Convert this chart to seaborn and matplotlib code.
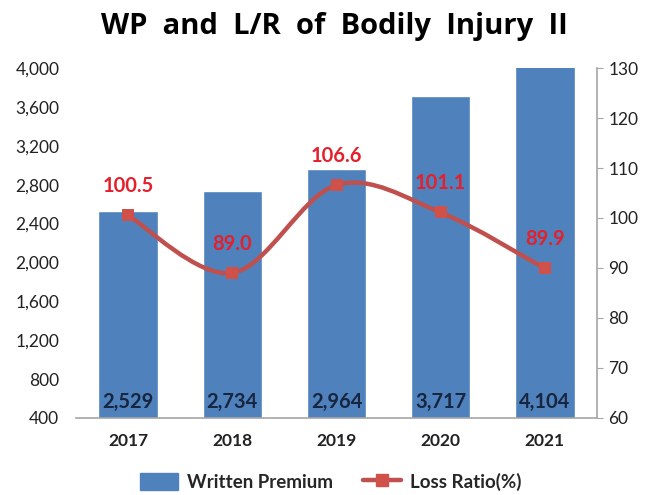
import numpy as np
import pandas as pd
import matplotlib
matplotlib.use('Agg')
import matplotlib.pyplot as plt
from matplotlib.path import Path
from matplotlib.patches import PathPatch, Patch
from matplotlib.lines import Line2D
import seaborn as sns

# data
years = ['2017', '2018', '2019', '2020', '2021']
written_premium = [2529, 2734, 2964, 3717, 4104]
loss_ratio = [100.5, 89.0, 106.6, 101.1, 89.9]
left_ticks = [400, 800, 1200, 1600, 2000, 2400, 2800, 3200, 3600, 4000]
right_ticks = [60, 70, 80, 90, 100, 110, 120, 130]

df = pd.DataFrame({'year': years, 'wp': written_premium, 'lr': loss_ratio})

sns.set_style('white')
plt.rcParams['font.family'] = ['Lato', 'DejaVu Sans']

BAR = '#4F81BD'
LINE = '#C0504D'
MARK = '#D0504A'
LABEL_RED = '#E3202B'
GRAY = '#A6A6A6'

fig = plt.figure(figsize=(6.55, 4.95), dpi=100)
ax = fig.add_axes([0.116, 0.1556, 0.7955, 0.707])

sns.barplot(data=df, x='year', y='wp', color=BAR, saturation=1, width=0.57, ax=ax)
ax.set_ylim(400, 4000)
ax.set_xlim(-0.5, 4.5)
ax.set_yticks(left_ticks)
ax.set_yticklabels([f'{t:,}' for t in left_ticks], fontsize=12.5, color='#222222')
ax.set_xticklabels(years, fontsize=12.5, fontweight='bold', color='#222222')
ax.set_xlabel('')
ax.set_ylabel('')
ax.tick_params(axis='y', length=0, pad=12)
ax.tick_params(axis='x', length=0, pad=11)
for s in ['left', 'top', 'right']:
    ax.spines[s].set_visible(False)
ax.spines['bottom'].set_color(GRAY)
ax.spines['bottom'].set_linewidth(1.2)

for i, v in enumerate(written_premium):
    ax.text(i, 560, f'{v:,}', ha='center', va='center', fontsize=14.5,
            fontweight='bold', color='#17253F')

ax2 = ax.twinx()
ax2.set_ylim(60, 130)
ax2.set_yticks(right_ticks)
ax2.set_yticklabels([str(t) for t in right_ticks], fontsize=12.5, color='#222222')
ax2.tick_params(axis='y', length=4, color=GRAY, pad=4)
for s in ['left', 'top', 'bottom']:
    ax2.spines[s].set_visible(False)
ax2.spines['right'].set_color(GRAY)
ax2.spines['right'].set_linewidth(1.2)

# smooth line (Catmull-Rom as cubic Bezier) through the loss ratio points
xs = np.arange(len(loss_ratio), dtype=float)
ys = np.array(loss_ratio, dtype=float)
pts = np.column_stack([xs, ys])
verts = [pts[0]]
codes = [Path.MOVETO]
for i in range(len(pts) - 1):
    p0 = pts[i - 1] if i > 0 else pts[i]
    p1, p2 = pts[i], pts[i + 1]
    p3 = pts[i + 2] if i + 2 < len(pts) else pts[i + 1]
    c1 = p1 + (p2 - p0) / 6
    c2 = p2 - (p3 - p1) / 6
    verts += [c1, c2, p2]
    codes += [Path.CURVE4] * 3
ax2.add_patch(PathPatch(Path(verts, codes), facecolor='none', edgecolor=LINE,
                        linewidth=3.2, zorder=3))

sns.scatterplot(x=xs, y=ys, marker='s', s=70, color=MARK, edgecolor=MARK,
                linewidth=0, zorder=4, ax=ax2, legend=False)

for x, v in zip(xs, loss_ratio):
    ax2.annotate(f'{v:.1f}', (x, v), xytext=(0, 21), textcoords='offset points',
                 ha='center', va='center', fontsize=14.5, fontweight='bold',
                 color=LABEL_RED)

fig.text(0.51, 0.947, 'WP  and  L/R  of  Bodily  Injury  II', ha='center',
         va='center', fontsize=21, fontweight='bold', color='black',
         family=['Open Sans', 'DejaVu Sans'])

handles = [Patch(facecolor=BAR, edgecolor=BAR),
           Line2D([0], [0], color=LINE, linewidth=3.2, marker='s',
                  markersize=8, markerfacecolor=MARK, markeredgecolor=MARK)]
fig.legend(handles, ['Written Premium', 'Loss Ratio(%)'], loc='center',
           bbox_to_anchor=(0.505, 0.027), ncol=2, frameon=False,
           prop={'size': 13.5, 'weight': 'bold'}, handlelength=2.0,
           handleheight=1.0, columnspacing=1.6, handletextpad=0.5)

fig.savefig('out.png', dpi=100)
